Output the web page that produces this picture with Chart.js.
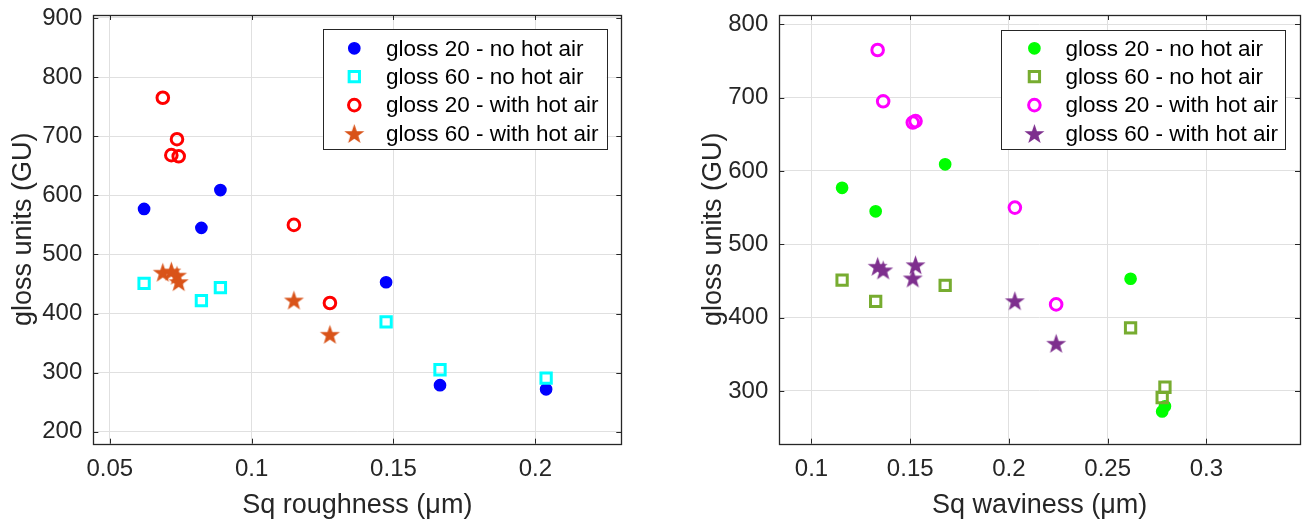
<!DOCTYPE html>
<html><head><meta charset="utf-8">
<script src="https://cdn.jsdelivr.net/npm/chart.js@4/dist/chart.umd.min.js"></script>
<style>
html,body{margin:0;padding:0;background:#fff;width:1311px;height:521px;overflow:hidden}
#wl{position:absolute;left:0;top:0;width:655px;height:521px}
#wr{position:absolute;left:690px;top:0;width:621px;height:521px}
canvas{display:block}
</style></head><body>
<div id="wl"><canvas id="cl" width="655" height="521"></canvas></div>
<div id="wr"><canvas id="cr" width="621" height="521"></canvas></div>
<script>
// ---- data ----
const seriesLabels = ['gloss 20 - no hot air', 'gloss 60 - no hot air', 'gloss 20 - with hot air', 'gloss 60 - with hot air'];
const roughnessNoAir  = [0.0621, 0.0823, 0.0890, 0.1474, 0.1664, 0.2038];
const wavinessNoAir   = [0.1155, 0.1325, 0.1677, 0.2616, 0.2790, 0.2776];
const gloss20NoAir    = [577, 545, 609, 453, 279, 272];
const gloss60NoAir    = [451, 422, 444, 386, 305, 291];
const roughnessHotAir = [0.0687, 0.0737, 0.0717, 0.0743, 0.1149, 0.1276];
const wavinessHotAir  = [0.1335, 0.1363, 0.1527, 0.1513, 0.2030, 0.2239];
const gloss20HotAir   = [765, 695, 668, 666, 550, 418];
const gloss60HotAir   = [470, 465, 472, 454, 423, 365];
const xTicksLeft = [0.05, 0.1, 0.15, 0.2];
const xTickLabelsLeft = ['0.05', '0.1', '0.15', '0.2'];
const yTicksLeft = [200, 300, 400, 500, 600, 700, 800, 900];
const yTickLabelsLeft = ['200', '300', '400', '500', '600', '700', '800', '900'];
const xTicksRight = [0.1, 0.15, 0.2, 0.25, 0.3];
const xTickLabelsRight = ['0.1', '0.15', '0.2', '0.25', '0.3'];
const yTicksRight = [300, 400, 500, 600, 700, 800];
const yTickLabelsRight = ['300', '400', '500', '600', '700', '800'];

const FONT = "'Liberation Sans', Arial, Helvetica, sans-serif";
const INK = '#262626';

function makeStar(color, R) {
  const s = Math.ceil(R * 2 + 4);
  const c = document.createElement('canvas');
  c.width = s; c.height = s;
  const g = c.getContext('2d');
  const cx = s / 2, cy = s / 2 + R * 0.1;
  g.beginPath();
  for (let i = 0; i < 10; i++) {
    const a = -Math.PI / 2 + i * Math.PI / 5;
    const r = (i % 2) ? R * 0.40 : R;
    const px = cx + r * Math.cos(a), py = cy + r * Math.sin(a);
    if (i === 0) g.moveTo(px, py); else g.lineTo(px, py);
  }
  g.closePath();
  g.fillStyle = color; g.fill();
  return c;
}

function pts(xs, ys) { return xs.map((x, i) => ({ x: x, y: ys[i] })); }

function datasets(xNo, xHot, colors) {
  const star = makeStar(colors[3], 10.5);
  return [
    { label: seriesLabels[0], data: pts(xNo, gloss20NoAir), pointStyle: 'circle', pointRadius: 5.6, borderWidth: 1.5,
      backgroundColor: colors[0], borderColor: colors[0], order: 3 },
    { label: seriesLabels[1], data: pts(xNo, gloss60NoAir), pointStyle: 'rect', pointRadius: 7.3, borderWidth: 3,
      backgroundColor: 'rgba(0,0,0,0)', borderColor: colors[1], order: 2 },
    { label: seriesLabels[2], data: pts(xHot, gloss20HotAir), pointStyle: 'circle', pointRadius: 5.8, borderWidth: 3,
      backgroundColor: 'rgba(0,0,0,0)', borderColor: colors[2], order: 1 },
    { label: seriesLabels[3], data: pts(xHot, gloss60HotAir), pointStyle: star, pointRadius: 10,
      backgroundColor: colors[3], borderColor: colors[3], order: 0 }
  ];
}

function drawMarker(ctx, ds, x, y) {
  ctx.save();
  ctx.fillStyle = ds.backgroundColor; ctx.strokeStyle = ds.borderColor; ctx.lineWidth = ds.borderWidth || 1;
  const st = ds.pointStyle, r = ds.pointRadius;
  if (st instanceof HTMLCanvasElement) {
    ctx.drawImage(st, x - st.width / 2, y - st.height / 2);
  } else if (st === 'rect') {
    const h = r * Math.SQRT1_2;
    ctx.beginPath(); ctx.rect(x - h, y - h, 2 * h, 2 * h); ctx.fill(); ctx.stroke();
  } else {
    ctx.beginPath(); ctx.arc(x, y, r, 0, Math.PI * 2); ctx.fill(); ctx.stroke();
  }
  ctx.restore();
}

const matlabBox = {
  id: 'matlabBox',
  afterDatasetsDraw(chart, args, opts) {
    const { ctx, chartArea: a } = chart;
    const xs = chart.scales.x, ys = chart.scales.y;
    ctx.save();
    ctx.strokeStyle = INK; ctx.lineWidth = 1;
    ctx.beginPath();
    xs.ticks.forEach(t => {
      const px = Math.round(xs.getPixelForValue(t.value)) + 0.5;
      ctx.moveTo(px, a.bottom); ctx.lineTo(px, a.bottom - 5);
      ctx.moveTo(px, a.top); ctx.lineTo(px, a.top + 5);
    });
    ys.ticks.forEach(t => {
      const py = Math.round(ys.getPixelForValue(t.value)) + 0.5;
      ctx.moveTo(a.left, py); ctx.lineTo(a.left + 5, py);
      ctx.moveTo(a.right, py); ctx.lineTo(a.right - 5, py);
    });
    ctx.stroke();
    ctx.lineWidth = 1.3;
    ctx.strokeRect(Math.round(a.left) + 0.5, Math.round(a.top) + 0.5, Math.round(a.right - a.left), Math.round(a.bottom - a.top));
    // legend
    const L = opts;
    const bx = a.right - L.offRight - L.width, by = a.top + L.offTop;
    ctx.fillStyle = '#fff';
    ctx.fillRect(bx, by, L.width, L.height);
    ctx.lineWidth = 1; ctx.strokeStyle = INK;
    ctx.strokeRect(Math.round(bx) + 0.5, Math.round(by) + 0.5, Math.round(L.width), Math.round(L.height));
    ctx.font = L.fontSize + 'px ' + FONT;
    ctx.textBaseline = 'middle'; ctx.textAlign = 'left';
    chart.data.datasets.forEach((ds, i) => {
      const ry = by + L.firstRow + i * L.rowStep;
      drawMarker(ctx, ds, bx + L.markerX, ry);
      ctx.fillStyle = '#000';
      ctx.fillText(ds.label, bx + L.textX, ry + 1);
    });
    ctx.restore();
  }
};

function build(canvasId, cfg) {
  const tickFont = { family: FONT, size: 24, lineHeight: 1 };
  const titleFont = { family: FONT, size: 27, lineHeight: 1 };
  return new Chart(document.getElementById(canvasId), {
    type: 'scatter',
    data: { datasets: cfg.datasets },
    plugins: [matlabBox],
    options: {
      responsive: false, animation: false, devicePixelRatio: 1,
      layout: { padding: { left: 0, top: 15, right: cfg.padRight, bottom: 0 } },
      plugins: {
        legend: { display: false }, tooltip: { enabled: false },
        matlabBox: cfg.legend
      },
      scales: {
        x: {
          type: 'linear', position: 'bottom', min: cfg.xMin, max: cfg.xMax,
          afterBuildTicks: s => { s.ticks = cfg.xTicks.map(v => ({ value: v })); },
          afterFit: s => { s.height = 77.3; s.paddingTop = 0; s.paddingBottom = 0; },
          ticks: { callback: v => cfg.xLabels[cfg.xTicks.indexOf(v)], font: tickFont, color: INK, padding: 14, maxRotation: 0, autoSkip: false },
          grid: { color: '#e0e0e0', drawTicks: false, lineWidth: 1 },
          border: { display: false },
          title: { display: true, text: cfg.xTitle, font: titleFont, color: INK, padding: { top: 0, bottom: 1.5 } }
        },
        y: {
          type: 'linear', position: 'left', min: cfg.yMin, max: cfg.yMax,
          afterBuildTicks: s => { s.ticks = cfg.yTicks.map(v => ({ value: v })); },
          afterFit: s => { s.width = cfg.yWidth; s.paddingTop = 0; s.paddingBottom = 0; },
          ticks: { callback: v => cfg.yLabels[cfg.yTicks.indexOf(v)], font: tickFont, color: INK, padding: 11, autoSkip: false },
          grid: { color: '#e0e0e0', drawTicks: false, lineWidth: 1 },
          border: { display: false },
          title: { display: true, text: 'gloss units (GU)', font: titleFont, color: INK, padding: { top: 10, bottom: 0 } }
        }
      }
    }
  });
}

build('cl', {
  datasets: datasets(roughnessNoAir, roughnessHotAir, ['#0000ff', '#00ffff', '#ff0000', '#d95319']),
  xMin: 0.0442, xMax: 0.2303, yMin: 180, yMax: 905,
  xTicks: xTicksLeft, xLabels: xTickLabelsLeft, yTicks: yTicksLeft, yLabels: yTickLabelsLeft,
  xTitle: 'Sq roughness (\u03bcm)', yWidth: 93.3, padRight: 33.7,
  legend: { width: 284, height: 120, offRight: 14.6, offTop: 14.3, firstRow: 19, rowStep: 28.4, markerX: 31.6, textX: 63.3, fontSize: 22.5 }
});
build('cr', {
  datasets: datasets(wavinessNoAir, wavinessHotAir, ['#00ff00', '#77ac30', '#ff00ff', '#7e2f8e']),
  xMin: 0.0837, xMax: 0.3474, yMin: 228, yMax: 812.7,
  xTicks: xTicksRight, xLabels: xTickLabelsRight, yTicks: yTicksRight, yLabels: yTickLabelsRight,
  xTitle: 'Sq waviness (\u03bcm)', yWidth: 89.3, padRight: 3.7,
  legend: { width: 283.6, height: 119, offRight: 15, offTop: 15, firstRow: 18.3, rowStep: 28.4, markerX: 33, textX: 64, fontSize: 22.5 }
});
</script>
</body></html>
